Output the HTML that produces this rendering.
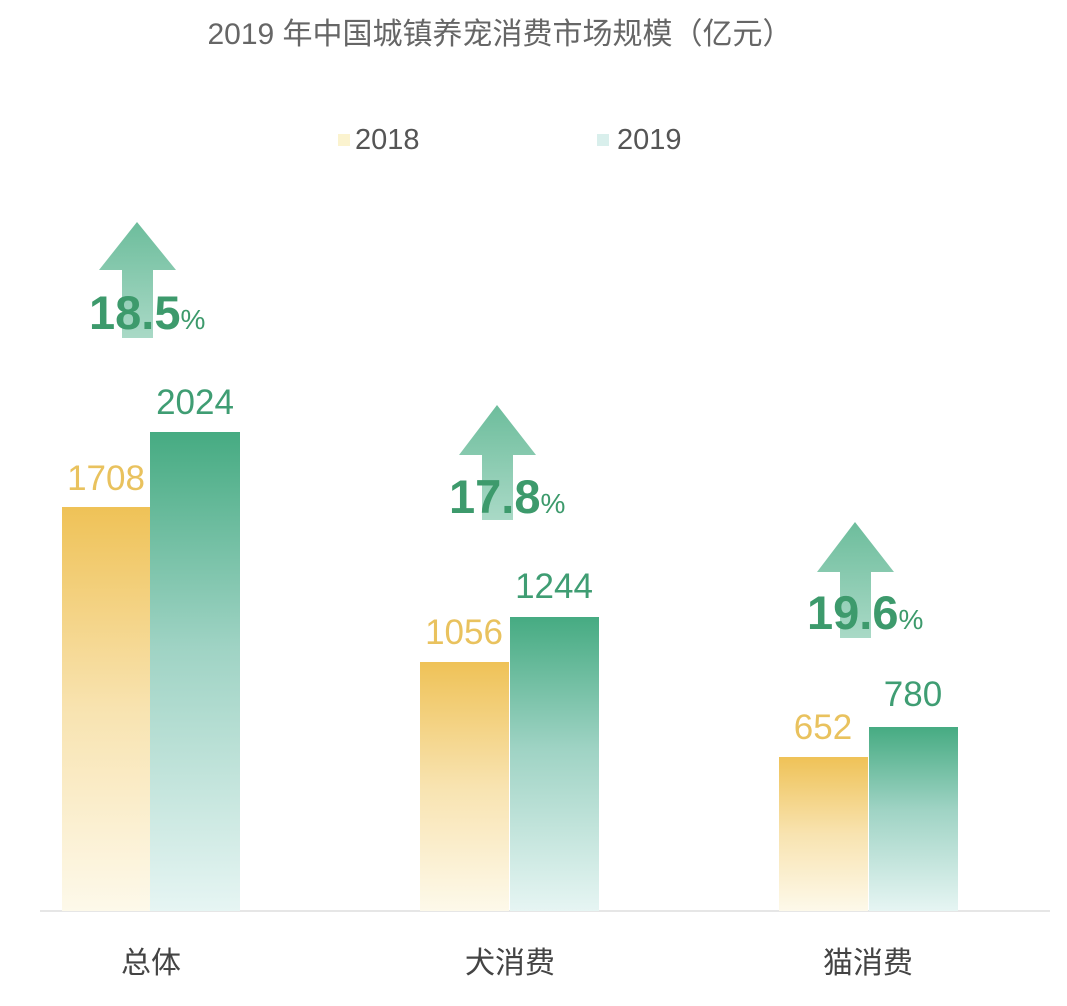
<!DOCTYPE html>
<html><head><meta charset="utf-8"><style>
body{margin:0;background:#fff}
svg{display:block}
text{font-family:"Liberation Sans","Noto Sans CJK SC",sans-serif}
</style></head><body>
<svg width="1067" height="1006" viewBox="0 0 1067 1006" xmlns="http://www.w3.org/2000/svg">
<defs>
<linearGradient id="y" x1="0" y1="0" x2="0" y2="1">
<stop offset="0" stop-color="#efc257"/><stop offset="0.5" stop-color="#f8e3b0"/><stop offset="1" stop-color="#fdf9ea"/></linearGradient>
<linearGradient id="g" x1="0" y1="0" x2="0" y2="1">
<stop offset="0" stop-color="#46ab82"/><stop offset="0.45" stop-color="#9fd3c4"/><stop offset="1" stop-color="#e6f5f3"/></linearGradient>
<linearGradient id="a" x1="0" y1="0" x2="0" y2="1">
<stop offset="0" stop-color="#6dbd9c"/><stop offset="1" stop-color="#a9d9c6"/></linearGradient>
</defs>
<text x="500" y="44" font-size="30" fill="#666" text-anchor="middle">2019 年中国城镇养宠消费市场规模（亿元）</text>
<rect x="338" y="134" width="12" height="12" fill="#fbf3cf"/>
<text x="355" y="149" font-size="29" fill="#555">2018</text>
<rect x="597" y="134" width="12" height="12" fill="#d9efec"/>
<text x="617" y="149" font-size="29" fill="#555">2019</text>
<line x1="40" y1="911" x2="1050" y2="911" stroke="#e6e6e6" stroke-width="2"/>
<g fill="url(#a)">
<polygon points="137,222 176,270 153,270 153,338 122,338 122,270 99,270"/>
<polygon points="497,405 536,455 513,455 513,520 482,520 482,455 459,455"/>
<polygon points="855,522 894,572 871,572 871,638 840,638 840,572 817,572"/>
</g>
<g font-weight="bold" fill="#3d9a6c">
<text x="89" y="329" font-size="47">18.5<tspan font-size="28" font-weight="normal">%</tspan></text>
<text x="449" y="513" font-size="47">17.8<tspan font-size="28" font-weight="normal">%</tspan></text>
<text x="807" y="629" font-size="47">19.6<tspan font-size="28" font-weight="normal">%</tspan></text>
</g>
<rect x="62" y="507" width="88" height="404" fill="url(#y)"/>
<rect x="150" y="432" width="90" height="479" fill="url(#g)"/>
<rect x="420" y="662" width="89" height="249" fill="url(#y)"/>
<rect x="510" y="617" width="89" height="294" fill="url(#g)"/>
<rect x="779" y="757" width="89" height="154" fill="url(#y)"/>
<rect x="869" y="727" width="89" height="184" fill="url(#g)"/>
<g font-size="35" text-anchor="middle">
<text x="106" y="490" fill="#e9c25e">1708</text>
<text x="195" y="414" fill="#3f9d73">2024</text>
<text x="464" y="644" fill="#e9c25e">1056</text>
<text x="554" y="598" fill="#3f9d73">1244</text>
<text x="823" y="739" fill="#e9c25e">652</text>
<text x="913" y="706" fill="#3f9d73">780</text>
</g>
<g font-size="30" fill="#444" text-anchor="middle">
<text x="151" y="973">总体</text>
<text x="510" y="973">犬消费</text>
<text x="868" y="973">猫消费</text>
</g>
</svg>
</body></html>
